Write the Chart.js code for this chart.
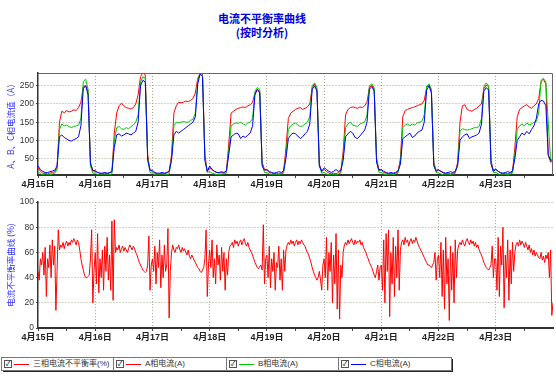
<!DOCTYPE html>
<html><head><meta charset="utf-8">
<script src="https://cdn.jsdelivr.net/npm/chart.js@4"></script>
<style>
body{margin:0;background:#fff;width:556px;height:379px;overflow:hidden;position:relative;font-family:"Liberation Sans","Noto Sans CJK SC",sans-serif;}
.tt{position:absolute;left:0;width:524px;text-align:center;color:#0000dd;font-weight:bold;font-size:11px;line-height:12px;font-family:"Noto Sans CJK SC",sans-serif;}
canvas{position:absolute;left:0;}
#lg{position:absolute;left:1px;top:357px;width:450px;height:13px;box-shadow:2px 2px 0 #222;background:#fff;}
.cell{position:absolute;top:0;height:12px;border:1px solid #777;border-right:none;box-sizing:content-box;}
.cb{position:absolute;left:2px;top:2px;width:6px;height:6px;border:1px solid #555;font-size:7px;line-height:6px;color:#000;text-align:center;}
.ln{position:absolute;left:12px;top:6px;width:15px;height:1px;}
.tx{position:absolute;left:31px;top:0;font-size:8px;line-height:12px;color:#333;white-space:nowrap;font-family:"Liberation Sans","Noto Sans CJK SC",sans-serif;}
</style>
</head><body>
<div class="tt" style="top:12px">电流不平衡率曲线</div>
<div class="tt" style="top:26px">(按时分析)</div>
<canvas id="c1" width="556" height="135" style="top:60px"></canvas>
<canvas id="c2" width="556" height="150" style="top:195px"></canvas>
<div id="lg">
 <div class="cell" style="left:0;width:112px"><span class="cb">✓</span><span class="ln" style="background:#ff0000"></span><span class="tx">三相电流不平衡率(%)</span></div>
 <div class="cell" style="left:112px;width:113px"><span class="cb">✓</span><span class="ln" style="background:#ff0000"></span><span class="tx">A相电流(A)</span></div>
 <div class="cell" style="left:225px;width:112px"><span class="cb">✓</span><span class="ln" style="background:#00c800"></span><span class="tx">B相电流(A)</span></div>
 <div class="cell" style="left:337px;width:112px;border-right:1px solid #777"><span class="cb">✓</span><span class="ln" style="background:#0000ff"></span><span class="tx">C相电流(A)</span></div>
</div>
<script>
// tick labels (one per day)
const dayLabels = ['4月15日','4月16日','4月17日','4月18日','4月19日','4月20日','4月21日','4月22日','4月23日'];
const currentTicks = [50,100,150,200,250];

// hourly phase currents (A), 4/15 00:00 .. 4/24 00:00
const phaseA = [
25,15,10,9,8,10,12,14,25,150,180,176,182,178,180,184,182,190,205,248,250,235,40,15,
18,12,10,8,10,8,10,14,120,175,195,202,195,190,188,186,190,200,225,275,285,280,60,18,
15,10,8,8,10,8,10,15,60,175,195,205,203,205,208,206,210,215,230,270,285,282,60,15,
25,20,15,12,10,12,10,15,90,175,180,185,188,190,192,190,195,198,205,230,240,235,40,20,
18,12,10,8,10,8,10,15,80,160,175,180,185,188,190,185,188,192,200,245,255,240,35,15,
20,15,10,8,10,8,12,15,70,170,185,190,192,190,188,192,190,195,205,245,252,240,50,20,
18,12,10,8,10,8,10,14,50,165,182,185,188,190,192,195,198,200,210,245,255,235,40,18,
20,15,10,8,10,8,10,12,40,150,195,198,185,182,180,185,188,195,200,242,252,248,45,18,
22,15,10,8,10,8,10,14,80,165,185,190,195,198,192,188,195,200,215,262,268,255,60,40,
45];
const phaseB = [
15,8,6,5,5,6,8,10,20,130,145,140,142,138,135,138,140,142,160,262,268,240,30,10,
10,6,5,5,5,5,6,8,100,135,138,132,130,135,132,138,142,150,170,260,275,270,50,12,
10,6,5,5,5,5,6,8,50,140,150,148,150,152,150,150,155,158,175,265,285,280,50,12,
15,10,8,6,6,8,8,10,70,140,145,148,147,150,145,142,148,150,160,235,245,240,35,12,
12,8,6,5,5,6,8,10,60,130,140,145,148,142,138,140,145,150,165,250,258,245,30,10,
12,8,6,5,6,5,8,10,55,135,145,150,142,140,138,145,148,150,170,250,255,245,45,12,
12,8,6,5,5,6,8,10,40,135,142,145,140,145,142,148,150,152,170,248,255,240,35,12,
10,8,5,5,5,6,8,10,35,125,132,130,128,130,132,135,135,138,160,248,258,250,40,12,
12,8,6,5,5,6,8,10,60,130,140,145,140,148,142,145,150,152,175,265,270,260,150,45,
40];
const phaseC = [
30,20,15,12,12,14,16,18,30,110,115,108,104,100,98,102,105,110,140,242,250,225,35,18,
15,12,10,10,12,10,12,14,80,115,118,112,115,120,118,115,120,125,150,250,265,260,45,18,
18,12,10,10,12,10,12,15,45,115,125,120,125,130,135,140,145,150,165,255,282,275,45,15,
30,20,15,12,12,14,12,16,60,110,115,120,118,105,112,108,115,120,140,225,240,230,30,18,
20,15,12,10,12,14,12,16,50,105,115,120,118,112,105,110,118,125,145,240,250,235,30,15,
25,20,15,12,15,20,15,18,45,110,118,125,120,108,105,112,120,128,150,240,248,235,40,18,
20,15,12,10,12,10,12,16,35,105,110,115,120,108,112,120,125,128,150,238,250,230,30,15,
18,15,12,10,12,14,12,15,30,100,110,115,118,105,110,112,115,120,145,235,245,238,35,15,
20,15,12,10,12,14,12,16,50,100,110,120,115,125,118,130,140,160,200,210,208,195,60,45,
48];

// half-hourly three-phase unbalance rate (%)
const unbalance = [
45,38,55,50,60,42,64,25,55,48,66,40,70,50,65,14,45,78,62,66,64,68,63,67,69,65,68,66,70,68,71,69,66,70,68,62,55,50,46,42,40,40,41,42,55,78,20,45,
60,35,75,28,55,40,62,30,65,45,72,38,58,30,85,22,86,60,64,62,66,60,63,65,61,64,62,60,63,66,64,62,65,63,60,58,55,52,50,48,46,45,44,45,50,73,30,50,
55,45,65,35,60,48,70,32,58,40,66,45,50,79,8,45,60,66,62,60,64,63,66,62,60,64,61,63,60,58,62,57,55,58,56,54,52,50,48,47,45,44,46,48,55,78,25,50,
62,48,70,40,55,35,66,50,58,38,64,45,60,30,55,42,60,65,66,68,64,70,67,69,65,68,70,66,69,71,67,65,68,64,62,60,58,55,52,50,48,47,49,50,46,82,35,55,
58,40,65,32,55,45,60,30,52,48,65,38,55,30,62,45,62,66,68,66,70,67,69,65,68,70,66,69,67,70,68,66,65,62,60,58,55,52,48,45,42,40,38,40,45,38,30,50,
55,40,72,30,60,45,68,20,58,35,75,15,62,7,50,40,60,66,68,66,70,67,69,71,68,66,70,67,69,68,70,66,68,64,62,60,57,55,52,50,48,45,42,40,45,50,38,48,
50,30,70,20,75,45,78,9,60,35,72,25,65,40,78,30,62,68,70,66,72,68,70,65,69,71,67,70,68,72,69,66,64,62,60,58,56,54,52,50,50,49,48,50,52,60,38,55,
58,40,68,25,62,15,72,35,55,6,65,30,60,20,70,40,62,66,68,66,70,67,65,69,71,68,66,70,67,69,65,68,64,66,62,60,58,55,52,50,48,47,46,48,50,65,40,55,
55,30,72,25,65,50,80,16,58,40,70,22,62,35,68,45,60,66,68,65,70,66,69,67,64,68,65,62,66,60,63,58,62,57,60,58,56,55,60,54,57,52,58,55,60,40,62,10,
20];

const FONT = '"Liberation Sans","Noto Sans CJK SC",sans-serif';
const gridCol = '#a4a48a';
const dash = [1,2];

function xScale(heightPx){
  return {
    type:'linear', min:0, max:216,
    afterBuildTicks: s => { const t=[]; for(let v=0; v<=204; v+=12) t.push({value:v}); s.ticks=t; },
    afterFit: s => { s.height = heightPx; },
    ticks:{ autoSkip:false, maxRotation:0, padding:1, color:'#222',
      font:{family:FONT,size:9,weight:'bold'},
      callback: v => (v%24===0 ? (dayLabels[v/24]||'') : '') },
    grid:{ color: c => (c.tick && c.tick.value%24===0 && c.tick.value>0) ? gridCol : 'rgba(0,0,0,0)',
      lineWidth:1, tickLength:3, tickColor:'#444', drawTicks:true },
    border:{ display:true, color:'#333', width:2, dash:dash }
  };
}

const framePlugin = {
  id:'frame',
  afterDraw(chart){
    const a = chart.chartArea, ctx = chart.ctx;
    ctx.save(); ctx.strokeStyle='#666'; ctx.lineWidth=1;
    ctx.beginPath(); ctx.moveTo(a.left, a.top+0.5); ctx.lineTo(a.right-0.5, a.top+0.5); ctx.lineTo(a.right-0.5, a.bottom); ctx.stroke();
    ctx.restore();
  }
};

const toXY = (arr, step) => arr.map((v,i)=>({x:i*step, y:v}));
const lineDs = (label, arr, step, color) => ({label, data:toXY(arr,step), borderColor:color, backgroundColor:color,
  borderWidth:1, pointRadius:0, tension:0, fill:false});

new Chart(document.getElementById('c1'), {
  type:'line',
  data:{ datasets:[
    lineDs('C相电流(A)', phaseC, 1, '#0000ff'),
    lineDs('B相电流(A)', phaseB, 1, '#00c800'),
    lineDs('A相电流(A)', phaseA, 1, '#ff0000')
  ]},
  options:{
    responsive:false, animation:false, events:[],
    layout:{ padding:{top:13, right:3, left:0, bottom:0} },
    plugins:{ legend:{display:false}, tooltip:{enabled:false} },
    scales:{
      x: xScale(20),
      y:{ min:5, max:285,
        afterBuildTicks: s => { s.ticks = currentTicks.map(v=>({value:v})); },
        afterFit: s => { s.width = 38; },
        ticks:{ padding:2, color:'#333', font:{family:FONT,size:8.5} },
        grid:{ color:gridCol, tickLength:2, tickColor:'#444' },
        border:{ display:true, color:'#333', width:1.5, dash:dash },
        title:{ display:true, text:'A、B、C相电流值（A）', color:'#2a2aff',
          font:{family:'"Noto Sans CJK SC",sans-serif', size:8.5}, padding:{top:6,bottom:0} }
      }
    }
  },
  plugins:[framePlugin]
});

new Chart(document.getElementById('c2'), {
  type:'line',
  data:{ datasets:[ lineDs('三相电流不平衡率(%)', unbalance, 0.5, '#ff0000') ]},
  options:{
    responsive:false, animation:false, events:[],
    layout:{ padding:{top:7, right:3, left:0, bottom:0} },
    plugins:{ legend:{display:false}, tooltip:{enabled:false} },
    scales:{
      x: xScale(17),
      y:{ min:0, max:100,
        afterFit: s => { s.width = 38; },
        ticks:{ stepSize:10, padding:2, color:'#333', font:{family:FONT,size:8.5} },
        grid:{ color:gridCol, tickLength:2, tickColor:'#444' },
        border:{ display:true, color:'#333', width:1.5, dash:dash },
        title:{ display:true, text:'电流不平衡率曲线 (%)', color:'#2a2aff',
          font:{family:'"Noto Sans CJK SC",sans-serif', size:8.5}, padding:{top:6,bottom:0} }
      }
    }
  }
});
</script>
</body></html>
